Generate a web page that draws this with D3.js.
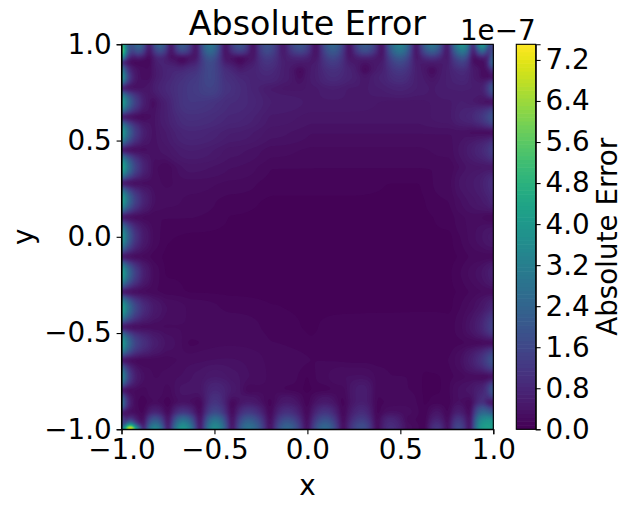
<!DOCTYPE html>
<html><head><meta charset="utf-8">
<script src="https://cdn.jsdelivr.net/npm/d3@7"></script>
<style>html,body{margin:0;padding:0;background:#fff}svg{display:block}text{font-family:"DejaVu Sans",sans-serif;fill:#000}</style>
</head><body><svg id="c" width="632" height="510"></svg>
<script>
// Absolute error, in units of 1e-8. Each band has its own x knots.
const xTicks=[-1,-0.5,0,0.5,1];
const yTicks=[-1,-0.5,0,0.5,1];
const colorbarTicks=[0,0.8,1.6,2.4,3.2,4,4.8,5.6,6.4,7.2];
const colorMax=7.505;
const topColumns=[-1,-.975,-.943,-.911,-.852,-.793,-.734,-.675,-.599,-.524,-.443,-.363,-.293,-.217,-.131,-.04,.046,.138,.224,.31,.401,.498,.584,.67,.751,.837,.891,.945,.972,1];
const topRowY=[1,.97,.934,.908,.866,.83,.773];
const topErrors=[
[50,22,16,27,2,25,1,22,1,30,1,20,1,19,3,20,1,25,1,22,1,34,1,30,1,40,3,44,18,14],
[66,24,12,20,1,18,1,17,1,26,1,15,1,17,3,16,1,21,1,18,1,29,1,23,1,31,2,26,8,16],
[44,12,4,6,1,8,2,2,3,20,3,1.5,3,13,5,8,3,16,3,7,3,21,3,11,3,20,1,6,4,24],
[.5,.5,.5,.5,1,7,5,.5,6,17,5,.5,5,11,6,5,5,13,5,3,5,16,5,5,5,14,2,.5,7,28],
[32,12,5,3,2,6,8,8,10,16,9,5,7,9,6,.8,6,10,7,.5,6,12,6,.8,6,9,5,2,3,10],
[44,18,7,3,2,6,8,10,12,16,10,8,7,8,6,2,6,9,7,4,7,10,6,3,6,8,5,2,1,.5],
[.5,.5,1.5,2.5,4,7,9,11,13,15,11,9,7,5,4,4,5,6,5,5,6,7,6,5,6,6,6,6,12,22]];
const midColumns=[-1,-.97,-.93,-.885,-.83,-.765,-.63,-.42,-.2,.015,.23,.445,.605,.77,.83,.885,.935,.97,1];
const midRowY=[.7,.622,.544,.451,.363,.279,.191,.103,0,-.105,-.188,-.287,-.37,-.469,-.552,-.64];
const midErrors=[
[46,26,14,6,1.5,6,12,9,6,5,5,4,4,5,6,5,3,1,.5],
[.5,.5,.8,1,3,6,10,8,5,4,4,4,4,5,7,8,11,15,20],
[44,25,13,6,3,5,8,6,4,3,3,3,3,3,3,2,1.5,1,.5],
[.5,.5,1,2,3,4,6,4,2.5,2,2,2,2,2.5,4,6,8,10,14],
[48,28,15,7,2.5,1,4,3,1.5,1.5,1.5,1.5,1.5,1.5,3,4,4,4,3],
[.5,.5,1,2,2.5,2,2.5,2,1,1,1,.7,.7,2,4,5,6,8,10],
[46,26,14,7,3,2.5,2,1,.6,.6,.6,.5,.5,1.5,3,4,5,6,8],
[.5,.5,1,1.5,1.5,1.5,1.5,.7,.4,.4,.4,.3,.3,1,2,2.5,2,1,.8],
[42,23,11,5,2,.8,.4,.3,.3,.3,.3,.3,.3,.5,1.5,2.5,3.5,4.5,5],
[.5,.5,1,1.5,1,.5,.3,.3,.3,.3,.3,.3,.3,.3,.8,1.5,1.5,1.5,1],
[46,26,14,6,2,.6,.5,.3,.3,.3,.3,.3,.3,.6,1.5,2.5,3.5,5,7],
[.5,.5,1,1.5,1.5,1,.6,.5,.3,.3,.3,.3,.3,.5,.8,1.5,2,2,1.5],
[46,28,16,9,5,3,2,1.2,.8,.3,.3,.3,.4,.5,1.5,2.5,4,6,8],
[.5,.5,.8,1.5,2,2,2.2,2,1.2,.5,1.3,1.5,1.5,1,2,4,7,11,15],
[44,26,15,10,6,3.5,1,2,1.5,.8,1,.8,1,.8,1.2,1.2,1,.6,.5],
[.5,.5,1,1,1.5,1.5,2.5,3,2,1.5,1,.8,.8,1.5,3,6,10,15,20]];
const bottomColumns=[-1,-.981,-.954,-.922,-.884,-.82,-.75,-.669,-.578,-.497,-.406,-.319,-.201,-.11,-.002,.095,.191,.294,.374,.444,.536,.633,.697,.756,.81,.875,.945,.972,1];
const bottomRowY=[-.728,-.796,-.863,-.915,-.952,-.977,-1];
const bottomErrors=[
[40,22,11,5,3,2,2.5,3,4,5,4,3,2,2,.5,2,3,3,2,1.5,1.5,.5,.5,1,1.5,2,.5,.5,.5],
[.5,.5,1,2,1.5,3,1.5,4,4,8,5,1,2,1,.5,.8,1.5,6,1.5,2,1.5,.5,.5,1,3,4,7,12,22],
[34,14,5,1.5,.5,2,.5,3,.5,11,.5,5,.5,5,.5,5,.5,6,1,1.5,2,.5,1,.5,3,.5,10,2,.8],
[.5,.5,1,2,.5,7,.5,11,.5,16,.5,12,.5,10,.5,11,.5,9,.5,3,2.5,.5,4,.5,6,.5,24,22,16],
[22,4,12,5,.5,20,.5,27,.5,28,.5,21,.5,17,.5,18,.5,13,.5,8,1.5,.5,7,.5,12,.5,36,38,36],
[6,14,34,12,.5,28,.5,35,.5,34,.5,26,.5,22,.5,23,.5,17,.5,9,2.5,.5,10,.5,15,.5,40,42,40],
[28,46,92,44,.5,38,.5,42,.5,38,.5,29,.5,25,.5,26,.5,18,.5,10,2.5,.5,12,.5,17,.5,42,42,40]];

const svg=d3.select("#c");
const m={l:121.5,r:493.3,t:44.3,b:429.3};
const x=d3.scaleLinear([-1,1],[m.l,m.r]);
const y=d3.scaleLinear([-1,1],[m.b,m.t]);
// sine easing: |sin|-shaped rise from a low knot to a high knot, as the error lobes have
const ease=(a,b)=>t=>a<b?a+(b-a)*Math.sin(t*Math.PI/2):b+(a-b)*Math.sin((1-t)*Math.PI/2);
const rows=[];
[[topRowY,topColumns,topErrors],[midRowY,midColumns,midErrors],[bottomRowY,bottomColumns,bottomErrors]].forEach(([ys,cols,vals])=>{
  ys.forEach((v,i)=>rows.push({y:v,f:d3.scaleLinear(cols,vals[i]).interpolate(ease)}));
});
function err(px,py){
  let i=0; while(i<rows.length-2&&rows[i+1].y>py) i++;
  const a=rows[i],b=rows[i+1],t=Math.max(0,Math.min(1,(a.y-py)/(a.y-b.y)));
  return ease(a.f(px),b.f(px))(t);
}
const nx=248,ny=257;
const gx=d3.scaleLinear([0,nx],[-1,1]),gy=d3.scaleLinear([0,ny],[1,-1]);
const field=new Float64Array(nx*ny);
for(let j=0;j<ny;j++)for(let i=0;i<nx;i++)field[j*nx+i]=err(gx(i+.5),gy(j+.5));
d3.blur2({data:field,width:nx,height:ny},0.7);

const levels=d3.range(0,100).map(i=>i*colorMax*10/100);
const color=d3.scaleSequential([0,colorMax*10],d3.interpolateViridis);
const defs=svg.append("defs");
defs.append("clipPath").attr("id","p").append("rect").attr("x",m.l).attr("y",m.t).attr("width",m.r-m.l).attr("height",m.b-m.t);
const path=d3.geoPath(d3.geoTransform({point(a,b){this.stream.point(x(gx(a)),y(gy(b)));}}));
const cs=d3.contours().size([nx,ny]).thresholds(levels).smooth(true)(Array.from(field));
svg.append("rect").attr("x",m.l).attr("y",m.t).attr("width",m.r-m.l).attr("height",m.b-m.t).attr("fill",color(0));
svg.append("g").attr("clip-path","url(#p)").selectAll("path").data(cs).join("path").attr("d",path).attr("fill",d=>color(d.value+colorMax*10/200));

function style(g,fs){
  g.selectAll(".tick line").attr("stroke","#000").attr("stroke-width",1.1);
  g.selectAll(".tick text").attr("font-size",fs).attr("fill","#000");
  g.select(".domain").attr("stroke","#000").attr("stroke-width",1.1);
}
const fs=27.8, f1=d3.format(".1f");
const gb=svg.append("g").attr("transform",`translate(0,${m.b})`).call(d3.axisBottom(x).tickValues(xTicks).tickFormat(f1).tickSize(4.9).tickPadding(4.9));
style(gb,fs); gb.attr("font-family",null);
const gl=svg.append("g").attr("transform",`translate(${m.l},0)`).call(d3.axisLeft(y).tickValues(yTicks).tickFormat(f1).tickSize(4.9).tickPadding(4.9));
style(gl,fs); gl.attr("font-family",null);
svg.append("rect").attr("x",m.l).attr("y",m.t).attr("width",m.r-m.l).attr("height",m.b-m.t).attr("fill","none").attr("stroke","#000").attr("stroke-width",1.1);

// colour bar
const cb={l:516.3,r:535.7};
const cy=d3.scaleLinear([0,colorMax],[m.b,m.t]);
svg.append("g").selectAll("rect").data(levels).join("rect")
 .attr("x",cb.l).attr("width",cb.r-cb.l)
 .attr("y",d=>cy(d/10+colorMax/100)-.3).attr("height",d=>cy(d/10)-cy(d/10+colorMax/100)+.6)
 .attr("fill",d=>color(d+colorMax*10/200));
const gc=svg.append("g").attr("transform",`translate(${cb.r},0)`).call(d3.axisRight(cy).tickValues(colorbarTicks).tickFormat(f1).tickSize(4.9).tickPadding(4.9));
style(gc,fs); gc.attr("font-family",null);
svg.append("rect").attr("x",cb.l).attr("y",m.t).attr("width",cb.r-cb.l).attr("height",m.b-m.t).attr("fill","none").attr("stroke","#000").attr("stroke-width",1.1);

const t=(s,px,py,size,anchor,rot)=>{const e=svg.append("text").text(s).attr("font-size",size).attr("text-anchor",anchor||"middle");
 if(rot)e.attr("transform",`translate(${px},${py}) rotate(${rot})`);else e.attr("x",px).attr("y",py);return e;};
t("Absolute Error",307.4,35,33.3);
t("x",307.4,495,27.8);
t("y",33,236.8,27.8,"middle",-90);
t("Absolute Error",617,236.8,27.8,"middle",-90);
t("1e\u22127",535.7,40,27.8,"end");
</script></body></html>
